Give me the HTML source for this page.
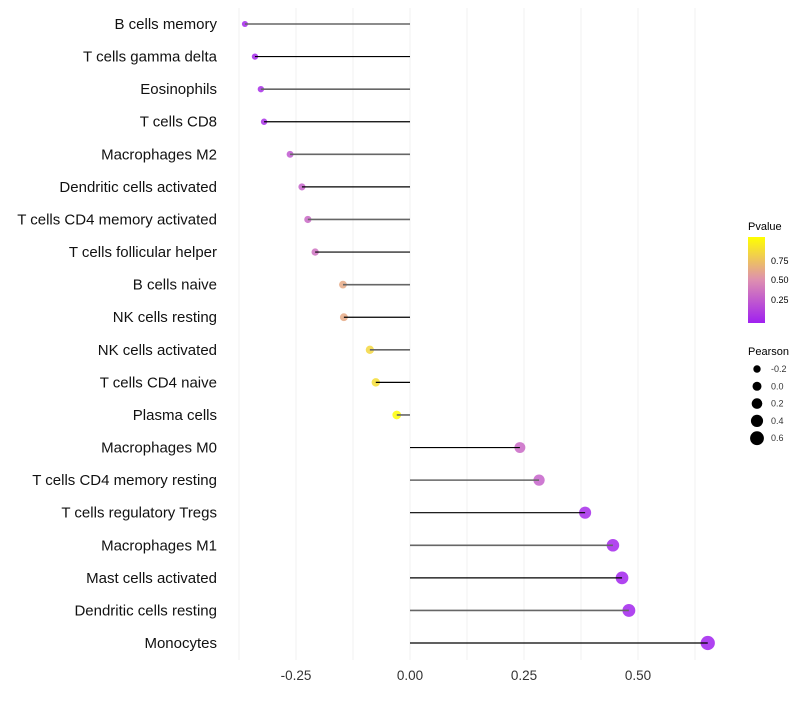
<!DOCTYPE html>
<html><head><meta charset="utf-8"><style>
body{margin:0;background:#fff;font-family:"Liberation Sans",sans-serif;}
</style></head><body>
<svg id="chart" width="800" height="700" xmlns="http://www.w3.org/2000/svg">
<defs><linearGradient id="pg" x1="0" y1="1" x2="0" y2="0">
<stop offset="0" stop-color="#A020F0"/><stop offset="0.5" stop-color="#DE8FB0"/><stop offset="1" stop-color="#FFFF00"/></linearGradient></defs>
<g id="grid"></g><g id="pts"></g><g id="marks"></g><g id="labels"></g>
<g id="legend">
<text x="748" y="230" font-size="11">Pvalue</text>
<rect x="748" y="237" width="17" height="86" fill="url(#pg)"/>
<text x="771" y="264" font-size="9">0.75</text>
<text x="771" y="283" font-size="9">0.50</text>
<text x="771" y="303" font-size="9">0.25</text>
<text x="748" y="355" font-size="11">Pearson</text>
</g>
</svg>
<script>
const categories=["B cells memory","T cells gamma delta","Eosinophils","T cells CD8","Macrophages M2","Dendritic cells activated","T cells CD4 memory activated","T cells follicular helper","B cells naive","NK cells resting","NK cells activated","T cells CD4 naive","Plasma cells","Macrophages M0","T cells CD4 memory resting","T cells regulatory  Tregs ","Macrophages M1","Mast cells activated","Dendritic cells resting","Monocytes"];
const pearson=[-0.362,-0.340,-0.327,-0.320,-0.263,-0.237,-0.224,-0.208,-0.147,-0.145,-0.088,-0.075,-0.029,0.241,0.283,0.384,0.445,0.465,0.480,0.653];
const pvalues=[0.03,0.04,0.06,0.07,0.25,0.3,0.33,0.37,0.62,0.62,0.82,0.85,0.99,0.33,0.3,0.05,0.03,0.02,0.02,0.01];
const xTicks=[-0.25,0,0.25,0.5];
const xTickLabels=["-0.25","0.00","0.25","0.50"];
const legendSizes=[-0.2,0,0.2,0.4,0.6];
const NS="http://www.w3.org/2000/svg";
const x=v=>410+v*456;
const y=i=>24+i*32.58;
const r=v=>4.5+4*v;
function col(p){const a=[160,32,240],m=[222,143,176],b=[255,255,0];let c;
 if(p<0.5){const t=p/0.5;c=a.map((q,k)=>q+(m[k]-q)*t);}else{const t=(p-0.5)/0.5;c=m.map((q,k)=>q+(b[k]-q)*t);}
 return `rgb(${c.map(Math.round).join(",")})`;}
function mk(tag,attrs,parent){const e=document.createElementNS(NS,tag);for(const k in attrs)e.setAttribute(k,attrs[k]);parent.appendChild(e);return e;}
const grid=document.getElementById('grid'),pts=document.getElementById('pts'),marks=document.getElementById('marks'),labels=document.getElementById('labels'),legend=document.getElementById('legend');
for(let v=-0.375;v<=0.63;v+=0.125){const g=mk('line',{x1:x(v),x2:x(v),y1:8,y2:660,stroke:'#f0f0f0','stroke-width':1},grid);

}
xTicks.forEach((v,i)=>{const t=mk('text',{x:x(v),y:680,'font-size':13.5,'text-anchor':'middle',fill:'#333'},labels);t.textContent=xTickLabels[i];

});
categories.forEach((c,i)=>{
 const t=mk('text',{x:217,y:y(i)+5,'font-size':15,'text-anchor':'end',fill:'#111'},labels);t.textContent=c;
 
 
 const d=mk('circle',{cx:x(pearson[i]),cy:y(i),r:r(pearson[i]),fill:col(pvalues[i]),'fill-opacity':0.85},pts);
 
 
 const l=mk('line',{x1:x(0),x2:x(pearson[i]),y1:y(i),y2:y(i),stroke:i%2?'#000':'#666','stroke-width':i%2?1.2:1.6},marks);
 
 
});
legendSizes.forEach((v,i)=>{const cy=369+i*17.3;
 const d=mk('circle',{cx:757,cy:cy,r:r(v),fill:'#000'},legend);
 
 
 const t=mk('text',{x:771,y:cy+3,'font-size':9,fill:'#333'},legend);t.textContent=v.toFixed(1);
 
 });
</script>
</body></html>
